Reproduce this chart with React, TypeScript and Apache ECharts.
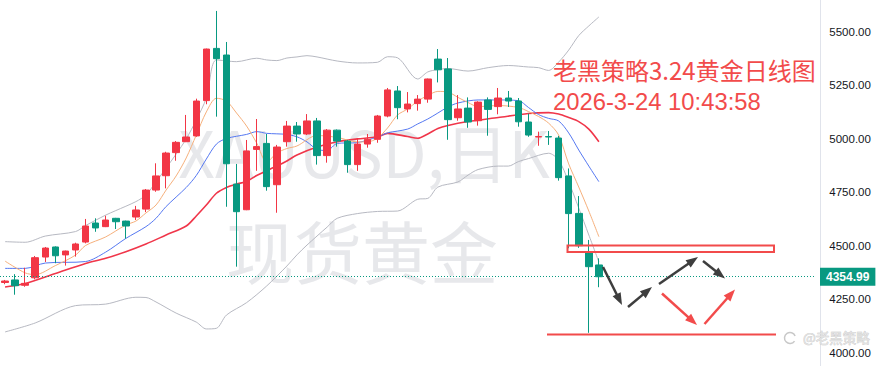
import React, { useEffect, useRef } from "react";
import * as echarts from "echarts";

// ---------- data ----------
const CATEGORY_COUNT = 81; // 60 trading days + empty space on the right
const categories: string[] = Array.from({ length: CATEGORY_COUNT }, (_, i) => `D${i + 1}`);

// [open, close, low, high]
const candles: number[][] = [
  [4328, 4335, 4320, 4340],
  [4340, 4313, 4271, 4367],
  [4315, 4324, 4308, 4397],
  [4350, 4444, 4343, 4452],
  [4447, 4489, 4424, 4494],
  [4494, 4453, 4418, 4497],
  [4457, 4475, 4407, 4477],
  [4480, 4508, 4449, 4514],
  [4517, 4592, 4511, 4625],
  [4606, 4583, 4565, 4628],
  [4589, 4620, 4587, 4640],
  [4628, 4612, 4578, 4630],
  [4615, 4592, 4533, 4617],
  [4634, 4667, 4620, 4686],
  [4671, 4760, 4657, 4765],
  [4760, 4826, 4752, 4885],
  [4827, 4933, 4768, 4939],
  [4935, 4983, 4897, 4989],
  [4986, 5008, 4984, 5111],
  [5013, 5176, 5009, 5187],
  [5178, 5419, 5161, 5421],
  [5422, 5374, 5103, 5597],
  [5391, 4883, 4682, 5452],
  [4788, 4659, 4402, 4882],
  [4668, 4943, 4666, 4994],
  [4950, 4963, 4850, 5092],
  [4978, 4776, 4757, 5022],
  [4785, 4961, 4654, 4971],
  [4986, 5059, 4963, 5083],
  [5059, 5022, 4986, 5078],
  [5022, 5083, 5017, 5115],
  [5083, 4921, 4879, 5097],
  [4921, 5040, 4888, 5045],
  [5040, 4989, 4963, 5043],
  [4989, 4879, 4841, 4994],
  [4879, 4975, 4850, 5002],
  [4975, 4997, 4958, 5022],
  [4997, 5106, 4981, 5111],
  [5106, 5228, 5100, 5237],
  [5223, 5145, 5091, 5246],
  [5139, 5162, 5123, 5218],
  [5164, 5185, 5131, 5204],
  [5185, 5279, 5168, 5281],
  [5372, 5322, 5263, 5419],
  [5326, 5089, 4995, 5377],
  [5098, 5139, 5084, 5204],
  [5143, 5078, 5051, 5193],
  [5084, 5171, 5061, 5175],
  [5181, 5137, 5014, 5193],
  [5150, 5190, 5114, 5237],
  [5190, 5176, 5148, 5223],
  [5176, 5079, 5056, 5190],
  [5078, 5017, 5009, 5117],
  [5008, 5010, 4967, 5033],
  [5010, 5008, 4971, 5036],
  [5003, 4818, 4804, 5013],
  [4826, 4650, 4488, 4861],
  [4651, 4500, 4490, 4732],
  [4469, 4402, 4093, 4527],
  [4410, 4354.99, 4306, 4441],
];

const lastPrice = 4354.99;

// [candle index, value]
const maFast: number[][] = [
  [0, 4428], [2, 4373], [3, 4365], [5, 4407], [7, 4456], [8, 4501], [10, 4541], [12, 4597],
  [13, 4615], [14, 4653], [15, 4690], [16, 4760], [17, 4826], [18, 4910], [19, 5017], [20, 5125],
  [21, 5189], [22, 5176], [23, 5120], [24, 5059], [25, 4980], [26, 4891], [27, 4933], [28, 4954],
  [29, 4966], [31, 5015], [33, 5006], [35, 4985], [36, 4985], [37, 5003], [38, 5050], [39, 5111],
  [40, 5139], [41, 5176], [42, 5202], [43, 5221], [44, 5218], [45, 5193], [46, 5169], [47, 5150],
  [49, 5155], [51, 5146], [52, 5127], [53, 5104], [54, 5073], [55, 5017], [56, 4882], [57, 4774],
  [58, 4662], [59, 4542],
];
const maMid: number[][] = [
  [0, 4394], [2, 4394], [4, 4419], [8, 4426], [10, 4470], [12, 4534], [14, 4589], [15, 4628],
  [16, 4683], [18, 4772], [19, 4828], [20, 4905], [21, 4975], [22, 5001], [24, 5020], [25, 5033],
  [26, 5025], [28, 5020], [29, 5009], [30, 4985], [31, 4950], [32, 4945], [33, 4978], [35, 4982],
  [37, 5008], [38, 5027], [40, 5045], [41, 5069], [42, 5092], [43, 5120], [44, 5148], [45, 5167],
  [47, 5181], [49, 5181], [51, 5178], [52, 5146], [53, 5113], [54, 5095], [55, 5083], [56, 5027],
  [57, 4947], [58, 4872], [59, 4799],
];
const maSlow: number[][] = [
  [0, 4307], [2, 4323], [5, 4370], [8, 4417], [10, 4441], [12, 4472], [14, 4508], [16, 4550],
  [18, 4592], [19, 4639], [20, 4690], [21, 4745], [22, 4772], [23, 4788], [24, 4800], [25, 4828],
  [27, 4872], [28, 4896], [29, 4924], [31, 4961], [33, 4986], [35, 4999], [37, 5009], [38, 5025],
  [40, 5010], [41, 5002], [42, 5022], [43, 5048], [44, 5062], [46, 5080], [49, 5099], [52, 5118],
  [54, 5122], [55, 5115], [56, 5099], [57, 5080], [58, 5045], [59, 4986],
];
const bollUpper: number[][] = [
  [0, 4519], [2, 4516], [4, 4545], [7, 4566], [8, 4594], [10, 4643], [11, 4664], [13, 4706],
  [14, 4737], [15, 4798], [16, 4863], [17, 4928], [18, 4999], [19, 5087], [20, 5190], [21, 5368],
  [23, 5360], [25, 5376], [26, 5368], [27, 5365], [28, 5377], [29, 5382], [30, 5388], [31, 5382],
  [33, 5363], [35, 5354], [37, 5357], [38, 5383], [39, 5378], [41, 5279], [42, 5312], [43, 5323],
  [44, 5328], [46, 5316], [48, 5332], [50, 5342], [52, 5335], [53, 5332], [54, 5319], [55, 5358],
  [56, 5414], [57, 5482], [58, 5527], [59, 5569],
];
const bollLower: number[][] = [
  [0, 4097], [3, 4139], [7, 4220], [10, 4227], [13, 4259], [14, 4258], [15, 4237], [17, 4185],
  [19, 4143], [20, 4111], [21, 4114], [22, 4176], [24, 4234], [26, 4312], [28, 4405], [29, 4457],
  [30, 4503], [32, 4587], [33, 4628], [35, 4650], [37, 4660], [39, 4662], [41, 4717], [42, 4721],
  [43, 4774], [45, 4798], [46, 4830], [47, 4856], [49, 4872], [50, 4872], [51, 4893], [52, 4907],
  [54, 4932], [55, 4900], [56, 4798], [57, 4676], [58, 4550], [59, 4424],
];

const yTicks = { min: 4000, max: 5500, interval: 250 };

const titleLine1 = "老黑策略3.24黄金日线图";
const titleLine2 = "2026-3-24 10:43:58";
const watermarkLine1 = "XAUUSD,日K";
const watermarkLine2 = "现货黄金";
const signature = "@老黑策略";

// ---------- colours ----------
const UP = "#F23645";
const DOWN = "#089981";
const ANNOT_RED = "#f24b4b";
const ANNOT_DARK = "#3e3e3e";

// hand-drawn annotations (pixel geometry)
const arrowSegments: { x1: number; y1: number; x2: number; y2: number; color: string }[] = [
  { x1: 603, y1: 267, x2: 622, y2: 305, color: ANNOT_DARK },
  { x1: 628, y1: 307, x2: 652, y2: 287, color: ANNOT_DARK },
  { x1: 659, y1: 284, x2: 698, y2: 257, color: ANNOT_DARK },
  { x1: 703, y1: 261, x2: 725, y2: 278.5, color: ANNOT_DARK },
  { x1: 662, y1: 293.5, x2: 697, y2: 325, color: ANNOT_RED },
  { x1: 704.5, y1: 324, x2: 735, y2: 289.5, color: ANNOT_RED },
];

function arrowElements(a: { x1: number; y1: number; x2: number; y2: number; color: string }) {
  const dx = a.x2 - a.x1;
  const dy = a.y2 - a.y1;
  const len = Math.hypot(dx, dy);
  const ux = dx / len;
  const uy = dy / len;
  const L = 12;
  const W = 4.5;
  const bx = a.x2 - ux * L;
  const by = a.y2 - uy * L;
  const px = -uy;
  const py = ux;
  return [
    {
      type: "line",
      z: 100,
      shape: { x1: a.x1, y1: a.y1, x2: bx + ux * 2, y2: by + uy * 2 },
      style: { stroke: a.color, lineWidth: 2.5 },
    },
    {
      type: "polygon",
      z: 100,
      shape: {
        points: [
          [a.x2, a.y2],
          [bx + px * W, by + py * W],
          [bx - px * W, by - py * W],
        ],
      },
      style: { fill: a.color },
    },
  ];
}

export default function App() {
  const ref = useRef<HTMLDivElement>(null);

  useEffect(() => {
    if (!ref.current) return;
    const chart = echarts.init(ref.current, undefined, { renderer: "svg" });

    const lineSeries = (name: string, data: number[][], color: string, width: number) => ({
      name,
      type: "line",
      data,
      symbol: "none",
      smooth: 0.3,
      clip: false,
      silent: true,
      z: 3,
      lineStyle: { color, width },
    });

    chart.setOption({
      animation: false,
      backgroundColor: "#ffffff",
      grid: { left: -6.9, right: 62.7, top: 31.7, bottom: 13.3 },
      xAxis: {
        type: "category",
        data: categories,
        boundaryGap: true,
        show: false,
      },
      yAxis: {
        type: "value",
        position: "right",
        min: yTicks.min,
        max: yTicks.max,
        interval: yTicks.interval,
        axisLine: { show: false },
        axisTick: { show: false },
        splitLine: { show: false },
        axisLabel: {
          margin: 14,
          color: "#131722",
          fontSize: 11.5,
          fontFamily: "Liberation Sans, Arial, sans-serif",
          formatter: (v: number) => v.toFixed(2),
        },
      },
      series: [
        lineSeries("BOLL上轨", bollUpper, "#b7b9c2", 1),
        lineSeries("BOLL下轨", bollLower, "#b7b9c2", 1),
        lineSeries("MA慢线", maSlow, "#f0364a", 1.6),
        lineSeries("MA中线", maMid, "#5578f2", 1),
        lineSeries("MA快线", maFast, "#f6b07c", 1),
        {
          name: "XAUUSD",
          type: "candlestick",
          data: candles,
          barWidth: 7,
          clip: false,
          z: 4,
          itemStyle: {
            color: UP,
            color0: DOWN,
            borderColor: UP,
            borderColor0: DOWN,
            borderWidth: 1,
          },
          markLine: {
            silent: true,
            symbol: "none",
            animation: false,
            data: [{ yAxis: lastPrice }],
            lineStyle: { color: DOWN, type: [1, 2], width: 1 },
            label: {
              position: "end",
              distance: 4.7,
              formatter: () => lastPrice.toFixed(2),
              backgroundColor: DOWN,
              color: "#ffffff",
              fontWeight: "bold",
              fontSize: 12,
              lineHeight: 14,
              padding: [2, 6],
              fontFamily: "Liberation Sans, Arial, sans-serif",
            },
          },
        },
      ],
      graphic: [
        // watermark
        {
          type: "text",
          z: 0,
          silent: true,
          x: 364,
          y: 150,
          style: {
            text: watermarkLine1,
            fill: "rgba(175,178,188,0.3)",
            font: '64px "Noto Sans CJK SC", sans-serif',
            textAlign: "center",
            textVerticalAlign: "middle",
          },
        },
        {
          type: "text",
          z: 0,
          silent: true,
          x: 362,
          y: 249,
          style: {
            text: watermarkLine2,
            fill: "rgba(175,178,188,0.3)",
            font: '68px "Noto Sans CJK SC", sans-serif',
            textAlign: "center",
            textVerticalAlign: "middle",
          },
        },
        // axis separator
        {
          type: "line",
          z: 1,
          silent: true,
          shape: { x1: 820.5, y1: 0, x2: 820.5, y2: 366 },
          style: { stroke: "#e0e3eb", lineWidth: 1 },
        },
        // title texts
        {
          type: "text",
          z: 100,
          x: 553,
          y: 69.5,
          style: {
            text: titleLine1,
            fill: ANNOT_RED,
            font: '24px "Noto Sans CJK SC", sans-serif',
            textVerticalAlign: "middle",
          },
        },
        {
          type: "text",
          z: 100,
          x: 553,
          y: 101.5,
          style: {
            text: titleLine2,
            fill: ANNOT_RED,
            font: '23.8px "Liberation Sans", Arial, sans-serif',
            textVerticalAlign: "middle",
          },
        },
        // resistance box
        {
          type: "rect",
          z: 100,
          shape: { x: 567.5, y: 245.5, width: 206.5, height: 6.5 },
          style: { stroke: ANNOT_RED, lineWidth: 2, fill: "rgba(0,0,0,0)" },
        },
        // support line
        {
          type: "line",
          z: 100,
          shape: { x1: 547, y1: 334.5, x2: 776, y2: 334.5 },
          style: { stroke: ANNOT_RED, lineWidth: 2 },
        },
        ...arrowSegments.flatMap(arrowElements),
        // signature watermark
        {
          type: "arc",
          z: 100,
          silent: true,
          shape: { cx: 790, cy: 338, r: 5.5, startAngle: 0.6, endAngle: 5.9 },
          style: { stroke: "#c8c8c8", lineWidth: 1.5, fill: "none" },
        },
        {
          type: "text",
          z: 100,
          silent: true,
          x: 803,
          y: 336.5,
          style: {
            text: signature,
            fill: "#e2e2e2",
            stroke: "#c2c2c2",
            lineWidth: 0.5,
            font: '13.5px "Noto Sans CJK SC", sans-serif',
            textVerticalAlign: "middle",
          },
        },
      ],
    });

    return () => chart.dispose();
  }, []);

  return (
    <div
      ref={ref}
      style={{ position: "fixed", left: 0, top: 0, width: 878, height: 366, background: "#fff" }}
    />
  );
}
